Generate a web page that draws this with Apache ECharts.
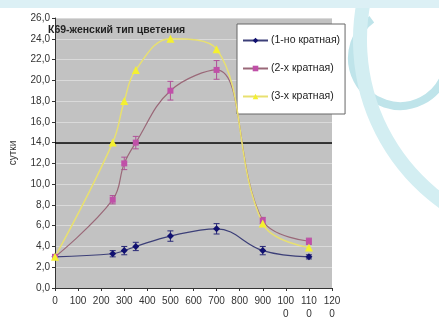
<!DOCTYPE html>
<html>
<head>
<meta charset="utf-8">
<script src="https://cdn.jsdelivr.net/npm/echarts@6/dist/echarts.min.js"></script>
<style>
html, body { margin: 0; padding: 0; background: #fff; }
#chart { width: 439px; height: 322px; }
</style>
</head>
<body>
<div id="chart"></div>
<script>
// доза (x) и сутки (y)
var xVals = [0, 250, 300, 350, 500, 700, 900, 1100];
var s1 = [3.0, 3.3, 3.6, 4.0, 5.0, 5.7, 3.6, 3.0];
var s1Err = [0.1, 0.3, 0.4, 0.4, 0.5, 0.5, 0.4, 0.2];
var s2 = [3.0, 8.5, 12.0, 14.0, 19.0, 21.0, 6.5, 4.5];
var s2Err = [0.1, 0.4, 0.6, 0.6, 0.9, 0.9, 0.3, 0.3];
var s3 = [3.0, 14.0, 18.0, 21.0, 24.0, 23.0, 6.2, 3.9];
var names = ['(1-но кратная)', '(2-х кратная)', '(3-х кратная)'];
var refLine = 14;

function pairs(ys) {
  return xVals.map(function (x, i) { return [x, ys[i]]; });
}
function errData(ys, es) {
  return xVals.map(function (x, i) { return [x, ys[i] - es[i], ys[i] + es[i]]; });
}
function errSeries(ys, es, color) {
  return {
    type: 'custom',
    silent: true,
    z: 4,
    data: errData(ys, es),
    renderItem: function (params, api) {
      var lo = api.coord([api.value(0), api.value(1)]);
      var hi = api.coord([api.value(0), api.value(2)]);
      var w = 3;
      var st = { stroke: color, lineWidth: 1 };
      return {
        type: 'group',
        children: [
          { type: 'line', shape: { x1: lo[0], y1: lo[1], x2: hi[0], y2: hi[1] }, style: st },
          { type: 'line', shape: { x1: lo[0] - w, y1: lo[1], x2: lo[0] + w, y2: lo[1] }, style: st },
          { type: 'line', shape: { x1: hi[0] - w, y1: hi[1], x2: hi[0] + w, y2: hi[1] }, style: st }
        ]
      };
    }
  };
}

var myChart = echarts.init(document.getElementById('chart'));
var option = {
  animation: false,
  backgroundColor: '#ffffff',
  textStyle: { fontFamily: 'Liberation Sans, Arial, sans-serif' },
  // фоновая завитушка со слайда
  graphic: [
    { type: 'arc', z: -10, shape: { cx: 400, cy: 58, r: 48, startAngle: Math.PI * 0.1, endAngle: Math.PI * 1.3 },
      style: { stroke: '#bfe4ea', lineWidth: 8, fill: null } },
    { type: 'arc', z: -10, shape: { cx: 560, cy: 40, r: 200, startAngle: Math.PI * 0.6, endAngle: Math.PI * 1.1 },
      style: { stroke: '#d3eef2', lineWidth: 14, fill: null } },
    { type: 'rect', z: -10, shape: { x: 0, y: 0, width: 439, height: 8 },
      style: { fill: '#dcf0f5' } }
  ],
  title: {
    text: 'К69-женский тип цветения',
    left: 43, top: 20,
    textStyle: { fontSize: 10.5, fontWeight: 'bold', color: '#222' }
  },
  legend: {
    orient: 'vertical',
    left: 237, top: 24,
    padding: [11, 5, 12, 5],
    itemGap: 17,
    itemWidth: 25,
    itemHeight: 7,
    backgroundColor: '#ffffff',
    borderColor: '#666',
    borderWidth: 1,
    textStyle: { fontSize: 10.5, color: '#222', padding: [0, 0, 0, -2] },
    data: names
  },
  grid: { left: 52, right: 107, top: 18, bottom: 34, show: true, backgroundColor: '#c2c2c2', borderWidth: 0 },
  xAxis: {
    type: 'value', min: 0, max: 1200, interval: 100,
    axisLine: { lineStyle: { color: '#333' } },
    axisTick: { show: true, length: 3, lineStyle: { color: '#333' } },
    splitLine: { show: false },
    axisLabel: {
      fontSize: 10, color: '#333', margin: 7, lineHeight: 13,
      formatter: function (v) { var s = String(v); return s.length > 3 ? s.slice(0, 3) + '\n' + s.slice(3) : s; }
    }
  },
  yAxis: {
    type: 'value', min: 0, max: 26, interval: 2,
    name: 'сутки', nameLocation: 'middle', nameRotate: 90, nameGap: 37,
    nameTextStyle: { fontSize: 10, color: '#333' },
    axisLine: { show: true, lineStyle: { color: '#333' } },
    axisTick: { show: true, length: 3, lineStyle: { color: '#333' } },
    splitLine: { show: true, lineStyle: { color: '#dadada', width: 1 } },
    axisLabel: {
      fontSize: 10, color: '#333', margin: 5,
      formatter: function (v) { return v.toFixed(1).replace('.', ','); }
    }
  },
  series: [
    {
      name: names[0], type: 'line', smooth: 0.4, data: pairs(s1), z: 5,
      symbol: 'diamond', symbolSize: 7,
      lineStyle: { color: '#3c3f78', width: 1.2 },
      itemStyle: { color: '#101070' },
      markLine: {
        silent: true, symbol: 'none', label: { show: false },
        lineStyle: { color: '#000', width: 1.5, type: 'solid' },
        data: [{ yAxis: refLine }]
      }
    },
    {
      name: names[1], type: 'line', smooth: 0.4, data: pairs(s2), z: 5,
      symbol: 'rect', symbolSize: 6,
      lineStyle: { color: '#9a6878', width: 1.2 },
      itemStyle: { color: '#c050a8' }
    },
    {
      name: names[2], type: 'line', smooth: 0.4, data: pairs(s3), z: 5,
      symbol: 'triangle', symbolSize: 8,
      lineStyle: { color: '#e8e070', width: 1.5 },
      itemStyle: { color: '#f4f030' }
    },
    errSeries(s1, s1Err, '#2a2a78'),
    errSeries(s2, s2Err, '#b05098')
  ]
};
myChart.setOption(option);
</script>
</body>
</html>
